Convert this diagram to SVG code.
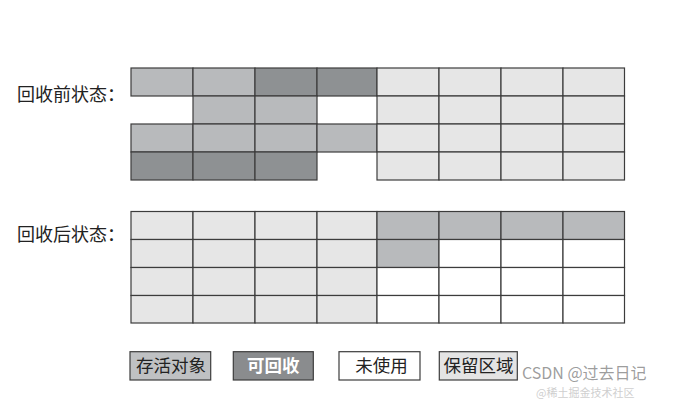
<svg xmlns="http://www.w3.org/2000/svg" width="674" height="400" viewBox="0 0 674 400">
  <style>
    .cell { stroke: #3c3c3c; stroke-width: 1.2; }
    .live { fill: #b8babc; }
    .garbage { fill: #8e9193; }
    .reserved { fill: #e6e6e6; }
    .free { fill: #ffffff; }
    .label { font-family: "Noto Sans CJK SC", "Noto Sans", sans-serif; font-size: 18px; fill: #222; }
    .legend-text { font-family: "Noto Sans CJK SC", "Noto Sans", sans-serif; font-size: 17.5px; fill: #222; text-anchor: middle; }
    .legend-box { stroke: #3c3c3c; stroke-width: 1.2; }
    .wm { font-family: "Noto Sans CJK SC", "Liberation Sans", sans-serif; }
  </style>
  <rect x="0" y="0" width="674" height="400" fill="#ffffff"/>

  <g id="label-before">
    <text class="label" x="17" y="101">回收前状态：</text>
  </g>
  <g id="label-after">
    <text class="label" x="17" y="241">回收后状态：</text>
  </g>

  <g id="grid-before">
    <!-- row 0 -->
    <rect class="cell live" x="131" y="68" width="62" height="28"/>
    <rect class="cell live" x="193" y="68" width="62" height="28"/>
    <rect class="cell garbage" x="255" y="68" width="62" height="28"/>
    <rect class="cell garbage" x="317" y="68" width="60" height="28"/>
    <rect class="cell reserved" x="377" y="68" width="62" height="28"/>
    <rect class="cell reserved" x="439" y="68" width="62" height="28"/>
    <rect class="cell reserved" x="501" y="68" width="62" height="28"/>
    <rect class="cell reserved" x="563" y="68" width="61.5" height="28"/>
    <!-- row 1 -->
    <rect class="cell live" x="193" y="96" width="62" height="28"/>
    <rect class="cell live" x="255" y="96" width="62" height="28"/>
    <rect class="cell reserved" x="377" y="96" width="62" height="28"/>
    <rect class="cell reserved" x="439" y="96" width="62" height="28"/>
    <rect class="cell reserved" x="501" y="96" width="62" height="28"/>
    <rect class="cell reserved" x="563" y="96" width="61.5" height="28"/>
    <!-- row 2 -->
    <rect class="cell live" x="131" y="124" width="62" height="28"/>
    <rect class="cell live" x="193" y="124" width="62" height="28"/>
    <rect class="cell live" x="255" y="124" width="62" height="28"/>
    <rect class="cell live" x="317" y="124" width="60" height="28"/>
    <rect class="cell reserved" x="377" y="124" width="62" height="28"/>
    <rect class="cell reserved" x="439" y="124" width="62" height="28"/>
    <rect class="cell reserved" x="501" y="124" width="62" height="28"/>
    <rect class="cell reserved" x="563" y="124" width="61.5" height="28"/>
    <!-- row 3 -->
    <rect class="cell garbage" x="131" y="152" width="62" height="28"/>
    <rect class="cell garbage" x="193" y="152" width="62" height="28"/>
    <rect class="cell garbage" x="255" y="152" width="62" height="28"/>
    <rect class="cell reserved" x="377" y="152" width="62" height="28"/>
    <rect class="cell reserved" x="439" y="152" width="62" height="28"/>
    <rect class="cell reserved" x="501" y="152" width="62" height="28"/>
    <rect class="cell reserved" x="563" y="152" width="61.5" height="28"/>
  </g>

  <g id="grid-after">
    <!-- row 0 -->
    <rect class="cell reserved" x="131" y="211.5" width="62" height="28"/>
    <rect class="cell reserved" x="193" y="211.5" width="62" height="28"/>
    <rect class="cell reserved" x="255" y="211.5" width="62" height="28"/>
    <rect class="cell reserved" x="317" y="211.5" width="60" height="28"/>
    <rect class="cell live" x="377" y="211.5" width="62" height="28"/>
    <rect class="cell live" x="439" y="211.5" width="62" height="28"/>
    <rect class="cell live" x="501" y="211.5" width="62" height="28"/>
    <rect class="cell live" x="563" y="211.5" width="61.5" height="28"/>
    <!-- row 1 -->
    <rect class="cell reserved" x="131" y="239.5" width="62" height="28"/>
    <rect class="cell reserved" x="193" y="239.5" width="62" height="28"/>
    <rect class="cell reserved" x="255" y="239.5" width="62" height="28"/>
    <rect class="cell reserved" x="317" y="239.5" width="60" height="28"/>
    <rect class="cell live" x="377" y="239.5" width="62" height="28"/>
    <rect class="cell free" x="439" y="239.5" width="62" height="28"/>
    <rect class="cell free" x="501" y="239.5" width="62" height="28"/>
    <rect class="cell free" x="563" y="239.5" width="61.5" height="28"/>
    <!-- row 2 -->
    <rect class="cell reserved" x="131" y="267.5" width="62" height="28"/>
    <rect class="cell reserved" x="193" y="267.5" width="62" height="28"/>
    <rect class="cell reserved" x="255" y="267.5" width="62" height="28"/>
    <rect class="cell reserved" x="317" y="267.5" width="60" height="28"/>
    <rect class="cell free" x="377" y="267.5" width="62" height="28"/>
    <rect class="cell free" x="439" y="267.5" width="62" height="28"/>
    <rect class="cell free" x="501" y="267.5" width="62" height="28"/>
    <rect class="cell free" x="563" y="267.5" width="61.5" height="28"/>
    <!-- row 3 -->
    <rect class="cell reserved" x="131" y="295.5" width="62" height="27.5"/>
    <rect class="cell reserved" x="193" y="295.5" width="62" height="27.5"/>
    <rect class="cell reserved" x="255" y="295.5" width="62" height="27.5"/>
    <rect class="cell reserved" x="317" y="295.5" width="60" height="27.5"/>
    <rect class="cell free" x="377" y="295.5" width="62" height="27.5"/>
    <rect class="cell free" x="439" y="295.5" width="62" height="27.5"/>
    <rect class="cell free" x="501" y="295.5" width="62" height="27.5"/>
    <rect class="cell free" x="563" y="295.5" width="61.5" height="27.5"/>
  </g>

  <g id="legend-live">
    <rect class="legend-box" x="130" y="351.7" width="80.7" height="28.3" fill="#bfc1c3"/>
    <text class="legend-text" x="171" y="372">存活对象</text>
  </g>
  <g id="legend-garbage">
    <rect class="legend-box" x="233.3" y="351.7" width="80" height="28.3" fill="#8a8c8e"/>
    <text class="legend-text" x="273.3" y="372" style="fill:#ffffff;font-weight:bold">可回收</text>
  </g>
  <g id="legend-free">
    <rect class="legend-box" x="339" y="351.7" width="81" height="28.3" fill="#ffffff"/>
    <text class="legend-text" x="381.5" y="372">未使用</text>
  </g>
  <g id="legend-reserved">
    <rect class="legend-box" x="439.3" y="351.7" width="78" height="28.3" fill="#e4e4e4"/>
    <text class="legend-text" x="478.5" y="372">保留区域</text>
  </g>

  <g id="watermark">
    <text class="wm" x="522" y="379" font-size="16" fill="#8c8c8c" fill-opacity="0.85">CSDN @过去日记</text>
    <text class="wm" x="536" y="397" font-size="11" fill="#cfcfcf">@稀土掘金技术社区</text>
  </g>
</svg>
